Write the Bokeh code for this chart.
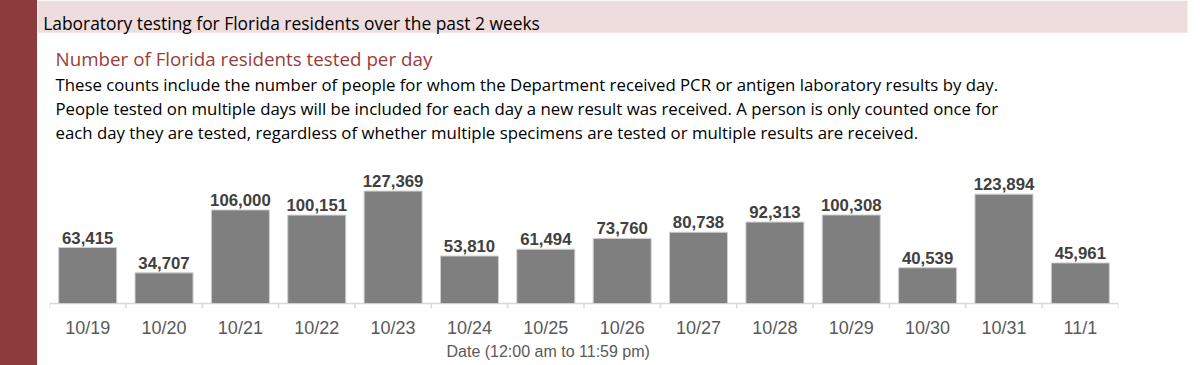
from bokeh.plotting import figure
from bokeh.models import (Range1d, FactorRange, CategoricalAxis, Title, ColumnDataSource, Div)
from bokeh.layouts import column, row
from bokeh.embed import file_html
from bokeh.resources import INLINE
from bokeh.core.properties import value

# ---------------- data ----------------
dates = ["10/19", "10/20", "10/21", "10/22", "10/23", "10/24", "10/25",
         "10/26", "10/27", "10/28", "10/29", "10/30", "10/31", "11/1"]
tested = [63415, 34707, 106000, 100151, 127369, 53810, 61494,
          73760, 80738, 92313, 100308, 40539, 123894, 45961]
value_labels = [f"{v:,}" for v in tested]

header_title = "Laboratory testing for Florida residents over the past 2 weeks"
subtitle = "Number of Florida residents tested per day"
body_lines = [
    "These counts include the number of people for whom the Department received PCR or antigen laboratory results by day.",
    "People tested on multiple days will be included for each day a new result was received. A person is only counted once for",
    "each day they are tested, regardless of whether multiple specimens are tested or multiple results are received.",
]
x_title = "Date (12:00 am to 11:59 pm)"

# ---------------- styles ----------------
RED = "#8E3B3B"
PINK = "#EFDCDC"
SUB_RED = "#9B3B38"
BAR = "#7F7F7F"
AXIS = "#D9D9D9"
FONT = "Liberation Sans"
HFONT = "Open Sans"

TOTAL_W = 1200
TOTAL_H = 365
STRIPE_W = 37
W = TOTAL_W - STRIPE_W
H1 = 145
H2 = TOTAL_H - H1

# ---------------- left stripe ----------------
stripe = Div(text="", width=STRIPE_W, height=TOTAL_H, margin=0,
             styles={"background-color": RED})

# ---------------- header ----------------
hdr = figure(width=W, height=H1, x_range=Range1d(STRIPE_W, TOTAL_W), y_range=Range1d(H1, 0),
             output_backend="svg", toolbar_location=None, min_border=0,
             x_axis_location=None, y_axis_location=None, outline_line_color=None)
hdr.grid.visible = False
hdr.quad(left=[STRIPE_W], right=[1187], top=[0], bottom=[32.3], fill_color=PINK, line_color=None)
hdr.text(x=[42.7], y=[22.7], text=[header_title], text_font=value(HFONT),
         text_font_size="17.4px", text_baseline="alphabetic", text_color="#000000")
hdr.text(x=[55], y=[58.3], text=[subtitle], text_font=value(HFONT),
         text_font_size="18.8px", text_baseline="alphabetic", text_color=SUB_RED)
hdr.text(x=[55, 55, 55], y=[84.3, 108.3, 132.3], text=body_lines, text_font=value(HFONT),
         text_font_size="16.8px", text_baseline="alphabetic", text_color="#000000")

# ---------------- chart ----------------
src = ColumnDataSource(dict(date=dates, tested=tested, label=value_labels))

Y_TOP = 179000
PLOT_PX = 158            # pixels from baseline to top of frame
PER_PX = Y_TOP / PLOT_PX
TICK_PX = 5
Y_BOTTOM = -TICK_PX * PER_PX

p = figure(width=W, height=H2,
           x_range=FactorRange(factors=dates, range_padding=0),
           y_range=Range1d(Y_BOTTOM, Y_TOP),
           output_backend="svg", toolbar_location=None,
           x_axis_location=None, y_axis_location=None,
           min_border_left=12, min_border_right=82, min_border_top=0, min_border_bottom=57,
           outline_line_color=None)
p.grid.visible = False

# baseline + boundary ticks (category separators)
bounds_x = [(d, -0.5) for d in dates] + [(dates[-1], 0.5)]
p.segment(x0=[(dates[0], -0.5)], x1=[(dates[-1], 0.5)], y0=[0], y1=[0],
          line_color=AXIS, line_width=1.5)
p.segment(x0=bounds_x, x1=bounds_x, y0=[0] * len(bounds_x), y1=[Y_BOTTOM] * len(bounds_x),
          line_color=AXIS, line_width=1.5)

p.vbar(x="date", top="tested", width=0.76, source=src,
       fill_color=BAR, line_color="#D0D0D0", line_width=1)
p.text(x="date", y="tested", text="label", source=src, text_align="center",
       text_baseline="alphabetic", y_offset=-10, text_font=value(FONT),
       text_font_style="bold", text_font_size="16.8px", text_color="#404040")

cax = CategoricalAxis(axis_line_color=None, major_tick_line_color=None,
                      major_tick_out=0, major_tick_in=0,
                      minor_tick_line_color=None, major_label_standoff=9,
                      major_label_text_font=FONT, major_label_text_font_size="18px",
                      major_label_text_color="#595959")
p.add_layout(cax, "below")

p.add_layout(Title(text=x_title, align="left", offset=397, text_font=FONT,
                   text_font_size="16px", text_font_style="normal",
                   text_color="#595959", standoff=1), "below")

layout = row(stripe, column(hdr, row(p, spacing=0), spacing=0), spacing=0)

open("out.html", "w").write(file_html(layout, INLINE))
